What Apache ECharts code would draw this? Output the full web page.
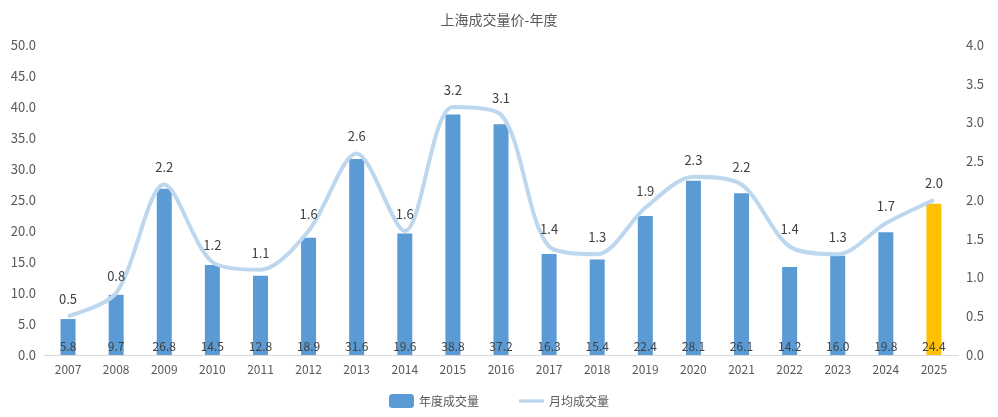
<!DOCTYPE html>
<html lang="zh">
<head>
<meta charset="UTF-8">
<title>上海成交量价-年度</title>
<script src="https://cdn.jsdelivr.net/npm/echarts@6/dist/echarts.min.js"></script>
<style>html,body{margin:0;padding:0;background:#fff}#chart{width:998px;height:417px}</style>
</head>
<body>
<div id="chart"></div>
<script>
let years=['2007','2008','2009','2010','2011','2012','2013','2014','2015','2016','2017','2018','2019','2020','2021','2022','2023','2024','2025'];
let yearVolume=[5.8,9.7,26.8,14.5,12.8,18.9,31.6,19.6,38.8,37.2,16.3,15.4,22.4,28.1,26.1,14.2,16.0,19.8,24.4];
let monthVolume=[0.5,0.8,2.2,1.2,1.1,1.6,2.6,1.6,3.2,3.1,1.4,1.3,1.9,2.3,2.2,1.4,1.3,1.7,2.0];

let chart=echarts.init(document.getElementById('chart'));
let font='"Microsoft YaHei","Noto Sans CJK SC",sans-serif';
chart.setOption({
    animation:false,
    textStyle:{fontFamily:font},
    title:{text:'上海成交量价-年度',left:'center',top:8,textStyle:{fontSize:14,fontWeight:'normal',color:'#595959'}},
    legend:{bottom:4,itemGap:40,textStyle:{color:'#595959',fontSize:12},
        data:[{name:'年度成交量'},{name:'月均成交量',icon:'path://M0,0H30V4H0Z',itemStyle:{color:'#BDD7EE',opacity:1}}]},
    grid:{left:44,right:40,top:45,bottom:62},
    xAxis:{type:'category',data:years,axisTick:{show:false},
        axisLine:{lineStyle:{color:'#d9d9d9'}},axisLabel:{color:'#595959',fontSize:12,interval:0}},
    yAxis:[
        {type:'value',min:0,max:50,interval:5,splitLine:{show:false},axisLine:{show:false},axisTick:{show:false},
            axisLabel:{color:'#595959',fontSize:13,formatter:v=>v.toFixed(1)}},
        {type:'value',min:0,max:4,interval:0.5,splitLine:{show:false},axisLine:{show:false},axisTick:{show:false},
            axisLabel:{color:'#595959',fontSize:13,formatter:v=>v.toFixed(1)}}
    ],
    series:[
        {name:'年度成交量',type:'bar',barWidth:15,itemStyle:{color:'#5B9BD5'},
            data:yearVolume.map((v,i)=>i===yearVolume.length-1?{value:v,itemStyle:{color:'#FFC000'}}:v),
            label:{show:true,position:'insideBottom',distance:3,color:'#404040',fontSize:12,formatter:p=>p.value.toFixed(1)}},
        {name:'月均成交量',type:'line',yAxisIndex:1,smooth:0.3,symbol:'circle',symbolSize:1,showSymbol:true,data:monthVolume,
            lineStyle:{color:'#BDD7EE',width:4},itemStyle:{color:'#BDD7EE'},
            label:{show:true,position:'top',distance:10,color:'#404040',fontSize:13,formatter:p=>p.value.toFixed(1)}}
    ]
});
</script>
</body>
</html>
